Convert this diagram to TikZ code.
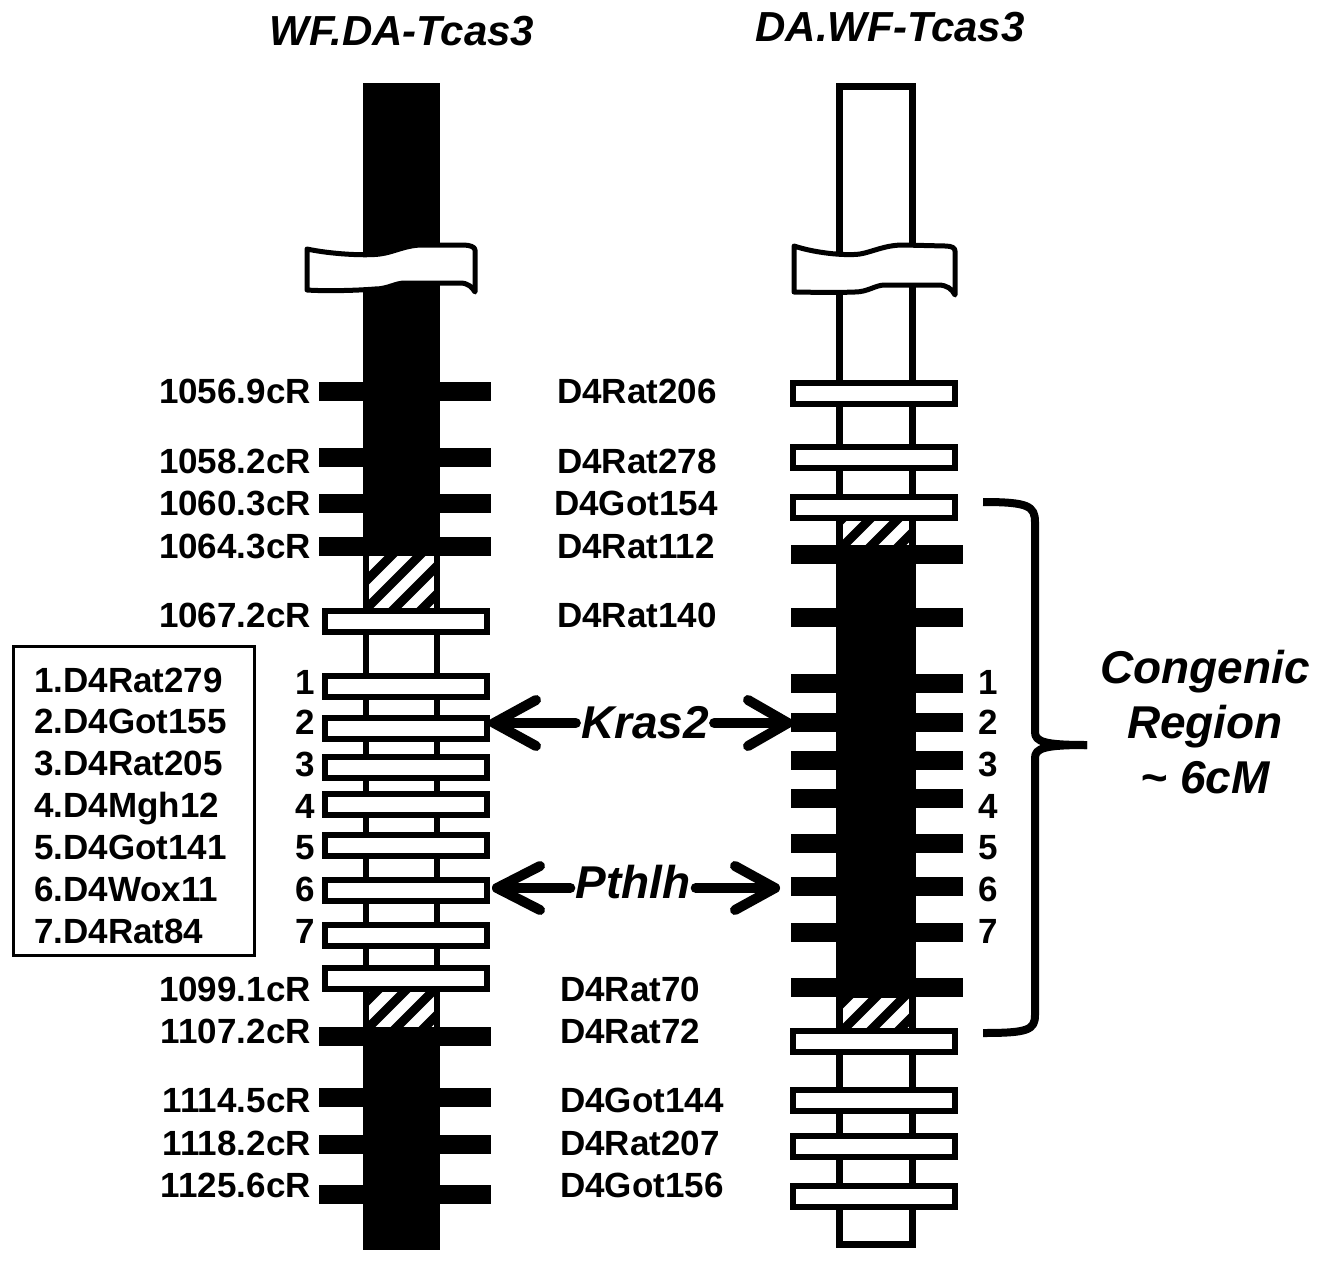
\documentclass[tikz,border=0pt]{standalone}
\usepackage{fontspec}
\setmainfont{Liberation Sans}
\begin{document}
\begin{tikzpicture}[x=1pt,y=-1pt,
  lbl/.style={font=\fontsize{35}{40}\selectfont\bfseries, inner sep=0pt},
  ttl/.style={font=\fontsize{42}{46}\selectfont\bfseries\itshape, inner sep=0pt},
  gene/.style={font=\fontsize{46}{50}\selectfont\bfseries\itshape, inner sep=5pt},
  cong/.style={font=\fontsize{46}{55}\selectfont\bfseries\itshape, inner sep=0pt},
  bbar/.style={rectangle, fill=black, inner sep=0pt, minimum width=172pt, minimum height=19pt},
  wbar/.style={rectangle, fill=white, draw=black, line width=6pt, inner sep=0pt, minimum width=162pt, minimum height=21pt},
  arr/.style={line width=10pt, line cap=round, line join=round},
  colborder/.style={draw=black, line width=6pt, fill=white},
  stripe/.style={line width=9pt},
  brk/.style={fill=white, draw=black, line width=5pt, line join=round},
  bracestyle/.style={line width=8pt, line join=round},
]
\useasboundingbox (0,0) rectangle (1323,1263);
\fill[white] (0,0) rectangle (1323,1263);

% titles
\node[ttl, anchor=base] (t1) at (402,46) {WF.DA-Tcas3};
\node[ttl, anchor=base] (t2) at (890,42) {DA.WF-Tcas3};

% ---- left chromosome ----
\draw[colborder] (366,86) rectangle (437,1247);
\fill[black] (363,83) rectangle (440,556);
\fill[black] (363,1028) rectangle (440,1250);
\begin{scope}
  \clip (369,556) rectangle (434,607);
  \foreach \k in {-3,...,4} \draw[stripe] ({363+\k*28},612) -- ++(70,-70);
\end{scope}
\begin{scope}
  \clip (369,990) rectangle (434,1028);
  \foreach \k in {-3,...,4} \draw[stripe] ({363+\k*28},1033) -- ++(70,-70);
\end{scope}

% ---- right chromosome ----
\draw[colborder, line width=7pt] (839.5,86.5) rectangle (912.5,1244.5);
\fill[black] (836,546) rectangle (916,998);
\begin{scope}
  \clip (843,518) rectangle (909,546);
  \foreach \k in {-3,...,4} \draw[stripe] ({838+\k*28},551) -- ++(70,-70);
\end{scope}
\begin{scope}
  \clip (843,998) rectangle (909,1030);
  \foreach \k in {-3,...,4} \draw[stripe] ({838+\k*28},1035) -- ++(70,-70);
\end{scope}

% break bands
\draw[brk] (307,249) .. controls (330,254) and (365,256) .. (380,254)
  .. controls (395,252) and (405,245) .. (423,245) -- (463,245)
  .. controls (470,245) and (475,247) .. (475,250) -- (475,292)
  .. controls (472,287) and (468,283) .. (460,283) -- (405,283)
  .. controls (395,283) and (388,289) .. (375,289)
  .. controls (350,291) and (320,291) .. (307,290) -- cycle;
\draw[brk] (794,246) .. controls (815,253) and (845,256) .. (860,254)
  .. controls (872,252) and (885,245) .. (903,245) -- (945,246)
  .. controls (952,246) and (955,248) .. (955,251) -- (955,295)
  .. controls (952,289) and (947,285) .. (938,285) -- (885,285)
  .. controls (875,285) and (868,292) .. (855,292)
  .. controls (830,293) and (805,292) .. (794,292) -- cycle;

% left bars
\foreach \y/\n in {391/a,457/b,503/c,546/d,1036/e,1097/f,1144/g,1194/h}
  \node[bbar] (lb\n) at (405,\y) {};
\foreach \y/\n in {621/i,686/1,728/2,767/3,804/4,845/5,890/6,935/7,978/j}
  \node[wbar] (lw\n) at (406,\y) {};

% right bars
\foreach \y/\n in {554/a,617/b,683/1,722/2,760/3,798/4,843/5,886/6,932/7,987/c}
  \node[bbar] (rb\n) at (877,\y) {};
\foreach \y/\n in {393/d,457/e,507/f,1041/g,1100/h,1146/i,1196/j}
  \node[wbar] (rw\n) at (874,\y) {};

% left labels
\foreach \t/\b/\n in {1056.9cR/403/a,1058.2cR/473/b,1060.3cR/515/c,1064.3cR/558/d,1067.2cR/627/e,1099.1cR/1001/f,1107.2cR/1043/g,1114.5cR/1112/h,1118.2cR/1155/i,1125.6cR/1197/j}
  \node[lbl, anchor=base east] (ll\n) at (311,\b) {\t};
\foreach \t/\b in {1/694,2/734,3/776,4/818,5/859,6/901,7/943}
  \node[lbl, anchor=base] (ln\t) at (305,\b) {\t};

% right labels
\foreach \t/\b/\x/\n in {D4Rat206/403/557/a,D4Rat278/473/557/b,D4Got154/515/554/c,D4Rat112/558/557/d,D4Rat140/627/557/e,D4Rat70/1001/560/f,D4Rat72/1043/560/g,D4Got144/1112/560/h,D4Rat207/1155/560/i,D4Got156/1197/560/j}
  \node[lbl, anchor=base west] (rl\n) at (\x,\b) {\t};
\foreach \t/\b in {1/694,2/734,3/776,4/818,5/859,6/901,7/943}
  \node[lbl, anchor=base] (rn\t) at (988,\b) {\t};

% legend
\node[draw, line width=2.5pt, minimum width=241pt, minimum height=309pt, inner sep=0pt] (legend) at (134,801) {};
\foreach \t/\b/\n in {1.D4Rat279/692/1,2.D4Got155/733/2,3.D4Rat205/775/3,4.D4Mgh12/817/4,5.D4Got141/859/5,6.D4Wox11/901/6,7.D4Rat84/943/7}
  \node[lbl, anchor=base west] (lg\n) at (34,\b) {\t};

% Kras2 arrows
\node[gene] (kras) at (645,723) {Kras2};
\coordinate (krasL) at (494,723);
\coordinate (krasR) at (788,723);
\draw[arr] (kras.west) -- (krasL);
\draw[arr] ([shift={(42,-23)}]krasL) -- (krasL) -- ([shift={(42,23)}]krasL);
\draw[arr] (kras.east) -- (krasR);
\draw[arr] ([shift={(-40,-23)}]krasR) -- (krasR) -- ([shift={(-40,23)}]krasR);

% Pthlh arrows
\node[gene] (pth) at (633,882) {Pthlh};
\coordinate (pthL) at (497,888);
\coordinate (pthR) at (775,888);
\draw[arr] (pthL -| pth.west) -- (pthL);
\draw[arr] ([shift={(43,-22)}]pthL) -- (pthL) -- ([shift={(43,22)}]pthL);
\draw[arr] (pthR -| pth.east) -- (pthR);
\draw[arr] ([shift={(-40,-22)}]pthR) -- (pthR) -- ([shift={(-40,22)}]pthR);

% brace
\coordinate (bTop) at (983,502);
\coordinate (bBot) at (983,1033);
\coordinate (bTip) at (1087,745);
\draw[bracestyle] (bTop) .. controls (1028,502) and (1035,506) .. (1035,522) -- (1035,732)
  .. controls (1035,742) and (1045,745) .. (bTip);
\draw[bracestyle] (bTip) .. controls (1045,745) and (1035,748) .. (1035,758) -- (1035,1015)
  .. controls (1035,1030) and (1028,1033) .. (bBot);

% congenic text
\node[cong, anchor=base] (c1) at (1205,683) {Congenic};
\node[cong, anchor=base] (c2) at (1205,738) {Region};
\node[cong, anchor=base] (c3) at (1205,793) {\textasciitilde{} 6cM};
\end{tikzpicture}
\end{document}
